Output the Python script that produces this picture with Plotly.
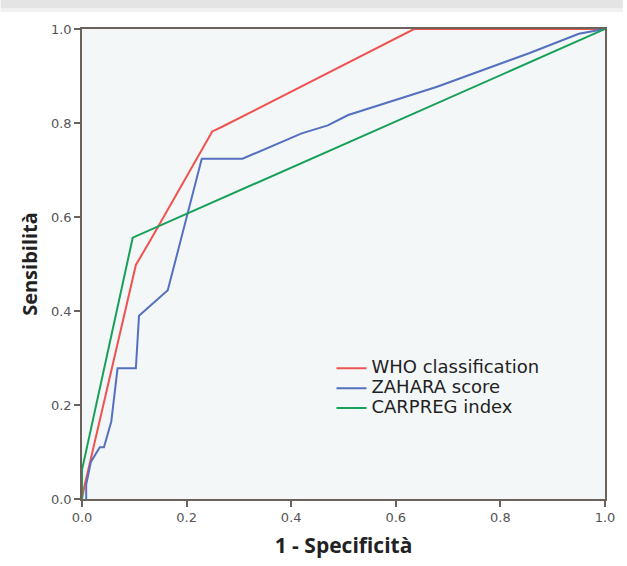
import plotly.graph_objects as go

who_x = [0.0, 0.005, 0.012, 0.103, 0.131, 0.249, 0.268, 0.635, 1.0]
who_y = [0.0, 0.03, 0.062, 0.498, 0.551, 0.782, 0.792, 1.0, 1.0]

zahara_x = [0.008, 0.008, 0.017, 0.034, 0.042, 0.056, 0.068, 0.103, 0.109, 0.125, 0.164, 0.229, 0.307, 0.42, 0.47, 0.509, 0.679, 0.856, 0.95, 1.0]
zahara_y = [0.0, 0.03, 0.079, 0.11, 0.11, 0.165, 0.278, 0.278, 0.39, 0.406, 0.444, 0.724, 0.724, 0.778, 0.795, 0.817, 0.877, 0.949, 0.99, 1.0]

carpreg_x = [0.0, 0.0, 0.097, 1.0]
carpreg_y = [0.0, 0.062, 0.556, 1.0]

ticks = [0.0, 0.2, 0.4, 0.6, 0.8, 1.0]
tick_text = ["0.0", "0.2", "0.4", "0.6", "0.8", "1.0"]

series = [
    ("WHO classification", who_x, who_y, "#ef5350"),
    ("ZAHARA score", zahara_x, zahara_y, "#5470c0"),
    ("CARPREG index", carpreg_x, carpreg_y, "#17a05a"),
]

fig = go.Figure()
for name, xs, ys, col in series:
    fig.add_trace(go.Scatter(
        x=xs, y=ys, mode="lines",
        name='<span style="font-size:18px">' + name + '</span>',
        line=dict(color=col, width=2)))

axis_col = "#6b625c"
common = dict(range=[0, 1], tickvals=ticks, ticktext=tick_text, ticks="outside",
              ticklen=6, tickcolor=axis_col, tickwidth=1.5, showline=True,
              linecolor=axis_col, linewidth=1.5, mirror=True, showgrid=False,
              zeroline=False,
              tickfont=dict(family="DejaVu Sans", size=13, color="#555555"))

fig.update_xaxes(**common,
                 title=dict(text="<b>1 - Specificità</b>",
                            font=dict(family="Open Sans", size=21, color="#222222"),
                            standoff=14))
fig.update_yaxes(**common,
                 title=dict(text="<b>Sensibilità</b>",
                            font=dict(family="Open Sans", size=20, color="#222222"),
                            standoff=8))

# light grey band along the top edge of the page
band_top = 1 + 29 / 470
shapes = [
    dict(type="rect", xref="paper", yref="paper", x0=-82 / 527, x1=1 + 18 / 527,
         y0=1 + 21 / 470, y1=band_top, fillcolor="#e4e4e4", line=dict(width=0), layer="below"),
    dict(type="rect", xref="paper", yref="paper", x0=-82 / 527, x1=1 + 18 / 527,
         y0=1 + 17 / 470, y1=1 + 21 / 470, fillcolor="#f0f0f0", line=dict(width=0), layer="below"),
]

fig.update_layout(
    width=627, height=566,
    margin=dict(l=82, r=18, t=29, b=67),
    paper_bgcolor="#ffffff",
    plot_bgcolor="#f4f7f8",
    showlegend=True,
    shapes=shapes,
    legend=dict(x=0.477, y=0.31, xanchor="left", yanchor="top",
                bgcolor="rgba(0,0,0,0)", itemwidth=30, tracegroupgap=0,
                font=dict(family="DejaVu Sans", size=13, color="#222222")),
)

fig.write_html("out.html", config={"displayModeBar": False},
               post_script="document.body.style.margin='0';document.body.style.overflow='hidden';")
